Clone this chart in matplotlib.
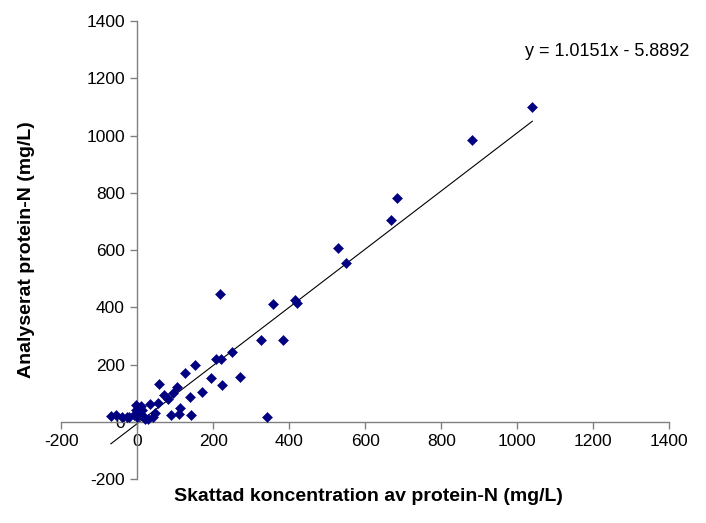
import matplotlib
matplotlib.use("Agg")
import matplotlib.pyplot as plt
import numpy as np

plt.rcParams['font.family'] = ['Liberation Sans', 'DejaVu Sans']
plt.rcParams['axes.unicode_minus'] = False

# Estimated protein-N (x) vs analysed protein-N (y), mg/L
x_est = [1040, 881, 683, 667, 529, 548, 416, 419, 357, 217, 325, 384, 248, 208, 221,
         193, 224, 270, 170, 340, 151, 125, 58, 104, 69, 93, 80, 139, 53, 32,
         9, 113, 47, 88, 110, 141, 27, -4, -3, -70, -56, -40, -22, -10, 0,
         5, 15, 20, -28, 40, 12]
y_meas = [1098, 985, 783, 705, 606, 556, 427, 414, 410, 446, 287, 287, 245, 219, 219,
          153, 130, 157, 105, 17, 198, 172, 132, 122, 95, 100, 80, 85, 65, 62,
          56, 48, 30, 22, 26, 22, 10, 60, 42, 20, 23, 18, 18, 25, 15,
          30, 20, 8, 15, 18, 40]

slope = 1.0151
intercept = -5.8892
eq_label = "y = 1.0151x - 5.8892"

x_ticks = [-200, 0, 200, 400, 600, 800, 1000, 1200, 1400]
y_ticks = [-200, 0, 200, 400, 600, 800, 1000, 1200, 1400]

fig = plt.figure(figsize=(7.06, 5.23), dpi=100)
ax = fig.add_axes([0.0871, 0.0841, 0.9476 - 0.0871, 0.9598 - 0.0841])

ax.plot(x_est, y_meas, linestyle='none', marker='D', markersize=5.2,
        color='#000080', markeredgewidth=0.4, zorder=3)

xl = np.array([min(x_est), max(x_est)])
ax.plot(xl, slope * xl + intercept, color='black', linewidth=0.8, zorder=2)

ax.set_xlim(-200, 1400)
ax.set_ylim(-200, 1400)
ax.set_xticks(x_ticks)
ax.set_yticks(y_ticks)

for s in ['top', 'right']:
    ax.spines[s].set_visible(False)
ax.spines['left'].set_position(('data', 0))
ax.spines['bottom'].set_position(('data', 0))
for s in ['left', 'bottom']:
    ax.spines[s].set_color('#808080')
    ax.spines[s].set_linewidth(1.0)

ax.tick_params(axis='both', direction='out', length=5, width=1.0, color='#808080',
               labelsize=12.5, pad=4)

ax.text(1022, 1294, eq_label, fontsize=13, ha='left', va='center', clip_on=False)

fig.text(0.522, 0.05, "Skattad koncentration av protein-N (mg/L)", fontsize=14,
         fontweight='bold', ha='center', va='center')
fig.text(0.038, 0.522, "Analyserat protein-N (mg/L)", fontsize=14,
         fontweight='bold', ha='center', va='center', rotation=90)

fig.savefig("out.png", dpi=100)
